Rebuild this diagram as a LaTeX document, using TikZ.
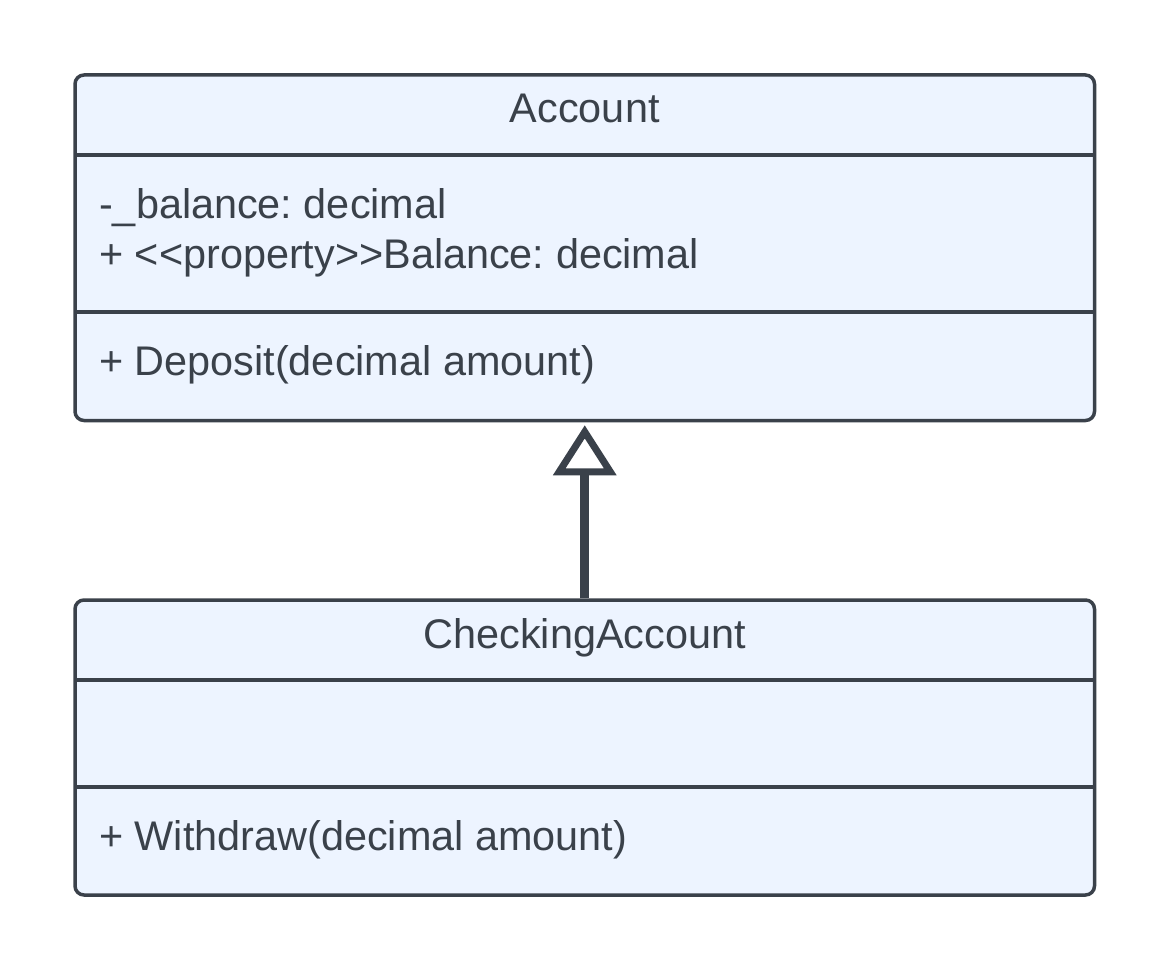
\documentclass[tikz,border=0pt]{standalone}
\usepackage{fontspec}
\setmainfont{Liberation Sans}
\usetikzlibrary{arrows.meta}
\definecolor{ink}{HTML}{3A414A}
\definecolor{boxfill}{HTML}{EDF4FF}
\frenchspacing
\begin{document}
\begin{tikzpicture}[x=1pt,y=-1pt,
  classbox/.style={draw=ink, fill=boxfill, line width=3.5pt, rounded corners=9pt, inner sep=0pt},
  sep/.style={draw=ink, line width=3.5pt},
  lbl/.style={text=ink, font=\fontsize{41.4}{48}\selectfont, inner sep=0pt},
  inherit/.style={draw=ink, line width=9pt, -{Triangle[open, length=50pt, width=62pt, line width=7pt]}, shorten >=3pt}
]
\useasboundingbox (0,0) rectangle (1170,971);
% Account
\node[classbox, minimum width=1019.5pt, minimum height=345.5pt] (account) at (584.75,247.75) {};
\draw[sep] (75,155) -- (1094.5,155);
\draw[sep] (75,312) -- (1094.5,312);
\node[lbl, anchor=base] (accname) at (584.75,123) {Account};
\node[lbl, anchor=base west] (attr1) at (99,218) {-\_balance: decimal};
\node[lbl, anchor=base west] (attr2) at (99,268) {+ <{}<property>{}>Balance: decimal};
\node[lbl, anchor=base west] (op1) at (99,375) {+ Deposit(decimal amount)};
% CheckingAccount
\node[classbox, minimum width=1019.5pt, minimum height=295pt] (checking) at (584.75,747.5) {};
\draw[sep] (75,680) -- (1094.5,680);
\draw[sep] (75,787) -- (1094.5,787);
\node[lbl, anchor=base] (chkname) at (584.75,648) {CheckingAccount};
\node[lbl, anchor=base west] (op2) at (99,850) {+ Withdraw(decimal amount)};
% Generalization
\draw[inherit] (checking.north) -- (account.south);
\end{tikzpicture}
\end{document}
